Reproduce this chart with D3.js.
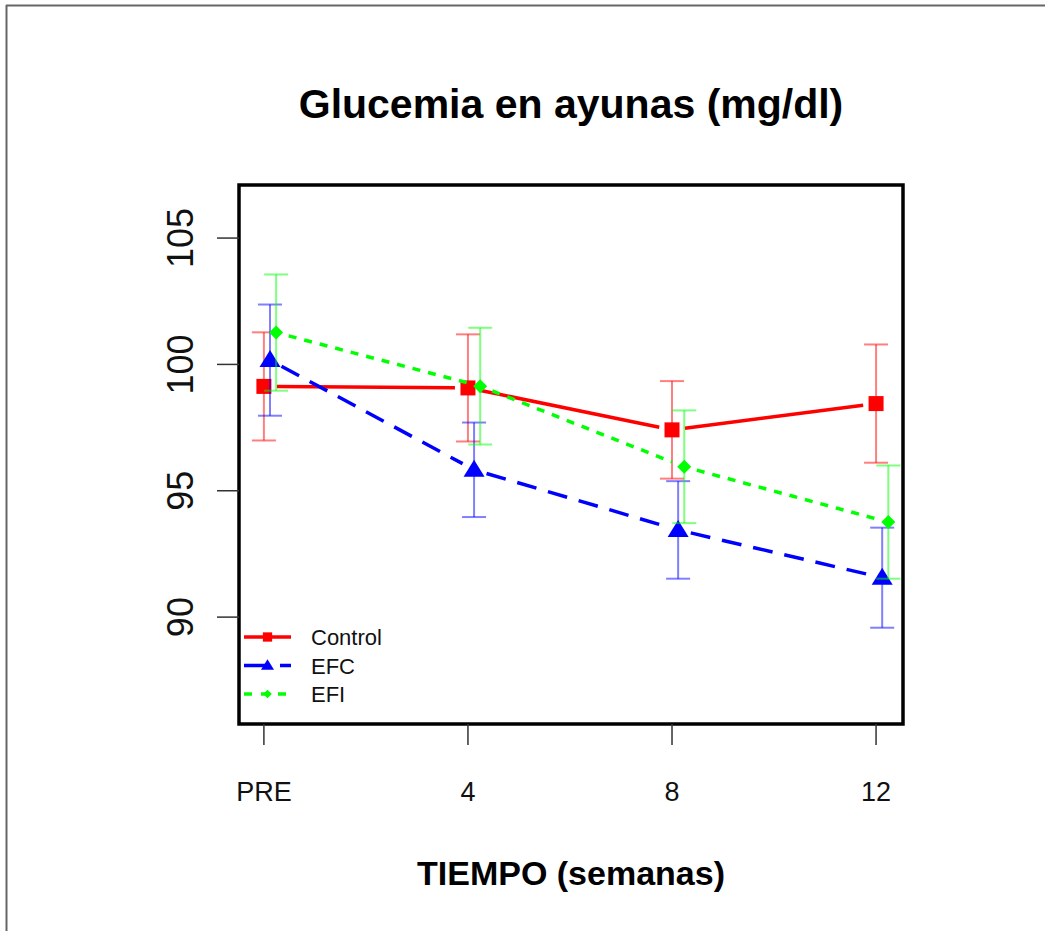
<!DOCTYPE html>
<html><head><meta charset="utf-8">
<script src="https://cdn.jsdelivr.net/npm/d3@7"></script>
<style>html,body{margin:0;padding:0;background:#fff;}svg{display:block;font-family:"Liberation Sans",Arial,Helvetica,sans-serif;}</style>
</head><body>
<svg id="chart" width="1045" height="931"></svg>
<script>
const timeLabels = ["PRE", "4", "8", "12"];
const seriesNames = ["Control", "EFC", "EFI"];
const seriesColors = ["#ff0000", "#0000ff", "#00ff00"];
const controlMean = [99.13, 99.07, 97.41, 98.45];
const controlErr  = [2.14, 2.12, 1.93, 2.34];
const efcMean = [100.17, 95.83, 93.45, 91.56];
const efcErr  = [2.20, 1.87, 1.93, 1.98];
const efiMean = [101.26, 99.14, 95.95, 93.76];
const efiErr  = [2.30, 2.31, 2.23, 2.24];
const yTicks = [90, 95, 100, 105];
const title = "Glucemia en ayunas (mg/dl)";
const xTitle = "TIEMPO (semanas)";

const series = [
  {name: seriesNames[0], mean: controlMean, err: controlErr, color: seriesColors[0], shape: "square", dash: null, legDash: null, offset: 0},
  {name: seriesNames[1], mean: efcMean, err: efcErr, color: seriesColors[1], shape: "triangle", dash: "20,12", legDash: "26,10", offset: 0.03},
  {name: seriesNames[2], mean: efiMean, err: efiErr, color: seriesColors[2], shape: "diamond", dash: "8,8", legDash: "8,9", offset: 0.06}
];

const svg = d3.select("#chart");
const box = {left: 239, right: 903, top: 185, bottom: 724};

const x = d3.scaleLinear().domain([0.878, 4.132]).range([box.left, box.right]);
const y = d3.scaleLinear().domain([85.77, 107.1]).range([box.bottom, box.top]);

// outer frame
svg.append("line").attr("x1", 6).attr("x2", 1045).attr("y1", 5.5).attr("y2", 5.5).attr("stroke", "#666").attr("stroke-width", 2);
svg.append("line").attr("x1", 6.5).attr("x2", 6.5).attr("y1", 5).attr("y2", 931).attr("stroke", "#666").attr("stroke-width", 2);

function symbol(sel, shape, color, k) {
  let path;
  if (shape === "square") {
    const h = 7.5*k;
    path = `M${-h},${-h}H${h}V${h}H${-h}Z`;
  } else if (shape === "triangle") {
    const w = 10.5*k, top = -10*k, bot = 7*k;
    path = `M0,${top}L${w},${bot}L${-w},${bot}Z`;
  } else {
    const r = 7*k;
    path = `M0,${-r}L${r},0L0,${r}L${-r},0Z`;
  }
  sel.append("path").attr("d", path).attr("fill", color);
}

const plot = svg.append("g");
const gap = 13;

series.forEach(s => {
  const pts = s.mean.map((m, i) => [x(i + 1 + s.offset), y(m)]);
  const eb = plot.append("g").attr("stroke", s.color).attr("stroke-opacity", 0.5).attr("stroke-width", 2).attr("fill", "none");
  s.mean.forEach((m, i) => {
    const cx = x(i + 1 + s.offset);
    eb.append("line").attr("x1", cx).attr("x2", cx).attr("y1", y(m + s.err[i])).attr("y2", y(m - s.err[i]));
    eb.append("line").attr("x1", cx - 12).attr("x2", cx + 12).attr("y1", y(m + s.err[i])).attr("y2", y(m + s.err[i]));
    eb.append("line").attr("x1", cx - 12).attr("x2", cx + 12).attr("y1", y(m - s.err[i])).attr("y2", y(m - s.err[i]));
  });
  for (let i = 0; i < pts.length - 1; i++) {
    const [x0, y0] = pts[i], [x1, y1] = pts[i+1];
    const L = Math.hypot(x1 - x0, y1 - y0);
    const ux = (x1 - x0)/L, uy = (y1 - y0)/L;
    plot.append("line")
      .attr("x1", x0 + ux*gap).attr("y1", y0 + uy*gap)
      .attr("x2", x1 - ux*gap).attr("y2", y1 - uy*gap)
      .attr("stroke", s.color).attr("stroke-width", 3.5)
      .attr("stroke-dasharray", s.dash);
  }
  pts.forEach(p => {
    const g = plot.append("g").attr("transform", `translate(${p[0]},${p[1]})`);
    symbol(g, s.shape, s.color, 1);
  });
});

// box
svg.append("rect").attr("x", box.left).attr("y", box.top).attr("width", box.right - box.left).attr("height", box.bottom - box.top)
  .attr("fill", "none").attr("stroke", "#000").attr("stroke-width", 3.5);

// y axis
const yAxis = svg.append("g");
yTicks.forEach(t => {
  yAxis.append("line").attr("x1", 217).attr("x2", box.left).attr("y1", y(t)).attr("y2", y(t)).attr("stroke", "#333").attr("stroke-width", 1.5);
  yAxis.append("text").attr("transform", `translate(193,${y(t)}) rotate(-90)`)
    .attr("text-anchor", "middle").attr("font-size", 36).attr("fill", "#111").text(t);
});

// x axis
const xAxis = svg.append("g");
timeLabels.forEach((lab, i) => {
  const cx = x(i + 1);
  xAxis.append("line").attr("x1", cx).attr("x2", cx).attr("y1", box.bottom).attr("y2", 745).attr("stroke", "#333").attr("stroke-width", 1.5);
  xAxis.append("text").attr("x", cx).attr("y", 801).attr("text-anchor", "middle").attr("font-size", 27).attr("fill", "#111").text(lab);
});

// titles
svg.append("text").attr("x", (box.left + box.right)/2).attr("y", 118).attr("text-anchor", "middle")
  .attr("font-size", 41).attr("font-weight", "bold").attr("fill", "#000").text(title);
svg.append("text").attr("x", (box.left + box.right)/2).attr("y", 885).attr("text-anchor", "middle")
  .attr("font-size", 34).attr("font-weight", "bold").attr("fill", "#000").text(xTitle);

// legend
const leg = svg.append("g");
series.forEach((s, i) => {
  const ly = 637 + i*28.5;
  leg.append("line").attr("x1", 244).attr("x2", 291).attr("y1", ly).attr("y2", ly)
    .attr("stroke", s.color).attr("stroke-width", 3.5).attr("stroke-dasharray", s.legDash);
  const g = leg.append("g").attr("transform", `translate(267.5,${ly})`);
  symbol(g, s.shape, s.color, 0.62);
  leg.append("text").attr("x", 311).attr("y", ly + 8).attr("font-size", 22).attr("fill", "#111").text(s.name);
});
</script>
</body></html>
